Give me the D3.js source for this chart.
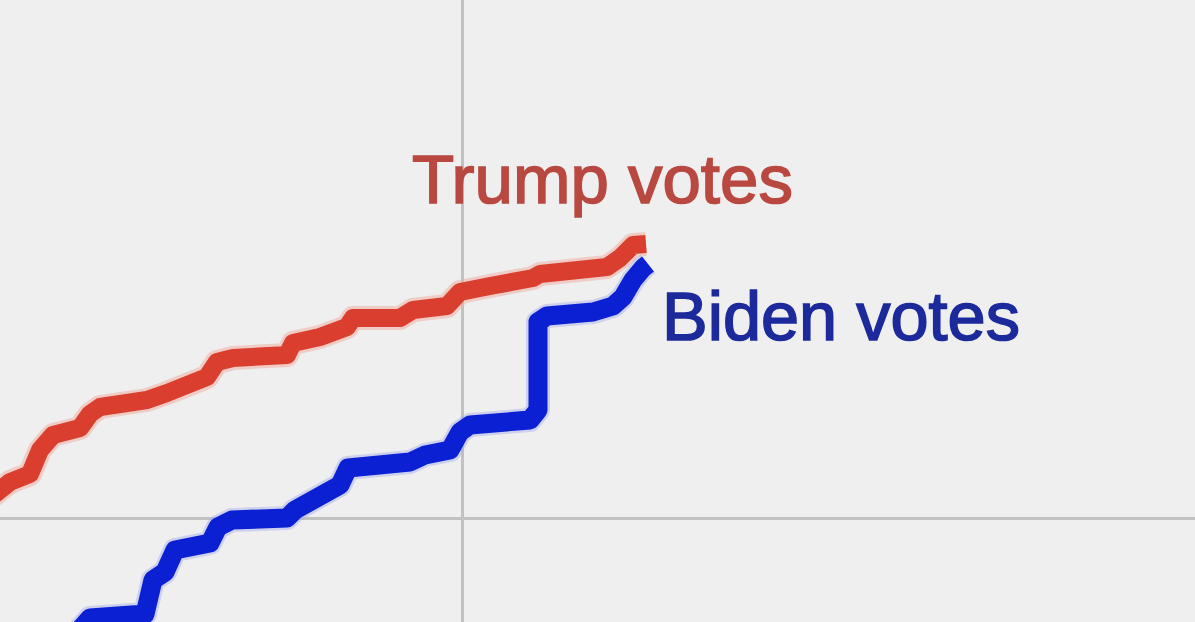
<!DOCTYPE html>
<html>
<head>
<meta charset="utf-8">
<script src="https://cdn.jsdelivr.net/npm/d3@7"></script>
<style>
  html, body { margin: 0; padding: 0; background: #efefef; }
  svg { display: block; }
</style>
</head>
<body>
<svg id="chart" width="1195" height="622"></svg>
<script>
// Time (hours) and cumulative votes (millions)
const trumpX = [0.28, 0.38, 0.48, 0.68, 0.78, 0.91, 1.18, 1.28, 1.38, 1.85, 2.05, 2.45, 2.55, 2.71, 3.25, 3.31, 3.58, 3.85, 3.91, 4.38, 4.51, 4.85, 4.98, 5.28, 5.71, 5.78, 6.45, 6.58, 6.71, 6.84];
const trumpY = [2.20, 2.28, 2.36, 2.44, 2.68, 2.83, 2.90, 3.04, 3.11, 3.18, 3.25, 3.41, 3.56, 3.60, 3.63, 3.75, 3.81, 3.91, 4.00, 4.00, 4.08, 4.12, 4.26, 4.32, 4.40, 4.44, 4.51, 4.60, 4.73, 4.74];

const bidenX = [1.13, 1.28, 1.83, 1.91, 2.03, 2.13, 2.48, 2.56, 2.70, 3.25, 3.33, 3.78, 3.86, 4.48, 4.63, 4.88, 4.98, 5.08, 5.68, 5.76, 5.76, 5.85, 6.31, 6.51, 6.61, 6.71, 6.81, 6.86];
const bidenY = [0.83, 1.00, 1.04, 1.38, 1.46, 1.68, 1.75, 1.91, 1.98, 2.00, 2.08, 2.33, 2.50, 2.56, 2.63, 2.68, 2.86, 2.93, 2.98, 3.08, 3.96, 4.02, 4.06, 4.12, 4.21, 4.38, 4.50, 4.54];

const xGridTicks = [5];
const yGridTicks = [2];
const labels = ["Trump votes", "Biden votes"];

const W = 1195, H = 622;
const svg = d3.select("#chart");

const x = d3.scaleLinear().domain([0.38, 12.33]).range([0, W]);
const y = d3.scaleLinear().domain([0.96, 7.18]).range([H, 0]);

// gridlines
const gx = svg.append("g").attr("transform", `translate(0,${H})`)
  .call(d3.axisBottom(x).tickValues(xGridTicks).tickSize(-H).tickFormat(""));
const gy = svg.append("g")
  .call(d3.axisLeft(y).tickValues(yGridTicks).tickSize(-W).tickFormat(""));
[gx, gy].forEach(g => {
  g.select(".domain").remove();
  g.selectAll(".tick line").attr("stroke", "#c2c2c2").attr("stroke-width", 3);
});

const line = d3.line().x(d => x(d[0])).y(d => y(d[1]));
const trump = trumpX.map((v, i) => [v, trumpY[i]]);
const biden = bidenX.map((v, i) => [v, bidenY[i]]);

// soft halo (as in the original image)
svg.append("path").datum(trump).attr("d", line)
  .attr("fill", "none").attr("stroke", "#f2aa9e").attr("stroke-opacity", 0.5)
  .attr("stroke-width", 24).attr("stroke-linejoin", "round");
svg.append("path").datum(trump).attr("d", line)
  .attr("fill", "none").attr("stroke", "#da3e2e")
  .attr("stroke-width", 18).attr("stroke-linejoin", "round");

svg.append("path").datum(biden).attr("d", line)
  .attr("fill", "none").attr("stroke", "#9aa6ee").attr("stroke-opacity", 0.4)
  .attr("stroke-width", 24).attr("stroke-linejoin", "round");
svg.append("path").datum(biden).attr("d", line)
  .attr("fill", "none").attr("stroke", "#0b20d2")
  .attr("stroke-width", 19).attr("stroke-linejoin", "round");

svg.append("text").text(labels[0])
  .attr("x", 412).attr("y", 203)
  .attr("font-family", "Liberation Sans, Arial, sans-serif")
  .attr("font-size", 69).attr("fill", "#b94840")
  .attr("stroke", "#b94840").attr("stroke-width", 1.6);
svg.append("text").text(labels[1])
  .attr("x", 662).attr("y", 340)
  .attr("font-family", "Liberation Sans, Arial, sans-serif")
  .attr("font-size", 68.5).attr("fill", "#1c2a9c")
  .attr("stroke", "#1c2a9c").attr("stroke-width", 1.6);
</script>
</body>
</html>
